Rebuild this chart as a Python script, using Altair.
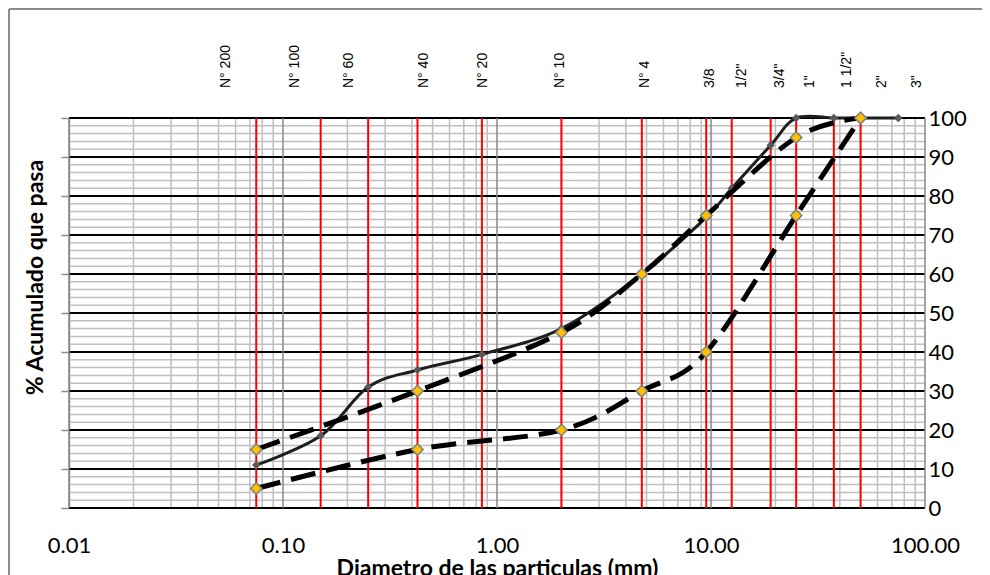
import altair as alt
import pandas as pd

# ---- data ----
sieve_mm = [0.075, 0.15, 0.25, 0.425, 0.85, 2.0, 4.75, 9.5, 12.5, 19.0, 25.0, 37.5, 50.0, 75.0]
sieve_names = ["N° 200", "N° 100", "N° 60", "N° 40", "N° 20", "N° 10", "N° 4",
               "3/8", '1/2"', '3/4"', '1"', '1 1/2"', '2"', '3"']
label_mm = [0.054, 0.114, 0.203, 0.456, 0.861, 1.97, 4.92, 9.89, 13.96, 21.0, 29.0, 43.2, 63.0, 91.8]
red_mm = [0.075, 0.15, 0.25, 0.425, 0.85, 2.0, 4.75, 9.5, 12.5, 19.0, 25.0, 37.5, 50.0]

sample_pass = [11.0, 18.5, 31.0, 35.4, 39.4, 46.0, 60.0, 74.5, 82.0, 93.0, 100.0, 100.0, 100.0, 100.0]

band_mm = [0.075, 0.425, 2.0, 4.75, 9.5, 25.0, 50.0]
upper_pass = [15, 30, 45, 60, 75, 95, 100]
lower_pass = [5, 15, 20, 30, 40, 75, 100]

decade_x = [0.01, 0.1, 1.0, 10.0, 100.0]
minor_x = [k * d for d in [0.01, 0.1, 1.0, 10.0] for k in range(2, 10)]
major_y = [0, 10, 20, 30, 40, 50, 60, 70, 80, 90, 100]
minor_y = [v for v in range(2, 100, 2) if v % 10 != 0]

W, H = 856, 390
FONT = "Lato"

sample_df = pd.DataFrame({"mm": sieve_mm, "p": sample_pass})
upper_df = pd.DataFrame({"mm": band_mm, "p": upper_pass})
lower_df = pd.DataFrame({"mm": band_mm, "p": lower_pass})
labels_df = pd.DataFrame({"mm": label_mm, "name": sieve_names})

xs = alt.Scale(type="log", domain=[0.01, 100], nice=False)
ys = alt.Scale(domain=[0, 100], nice=False)

xaxis = alt.Axis(values=decade_x, format=".2f", grid=False, ticks=False, tickSize=0,
                 domain=False, labelFont=FONT, labelFontSize=22, labelColor="black",
                 labelFlush=False, labelOverlap=False, labelBaseline="middle", labelPadding=37,
                 title="Diametro de las particulas (mm)", titleFont=FONT, titleFontSize=23,
                 titleFontWeight="bold", titleColor="black", titleBaseline="alphabetic",
                 titleY=67)
yleft = alt.Axis(values=major_y, labels=False, grid=False, ticks=True, tickSize=8,
                 tickColor="#8c8c8c", tickWidth=1.5, domain=True, domainColor="#8c8c8c",
                 domainWidth=1.5, title="% Acumulado que pasa", titleFont=FONT,
                 titleFontSize=23, titleFontWeight="bold", titleColor="black",
                 titleAngle=270, titleAlign="center", titleBaseline="middle",
                 titleX=-34, titleY=159)
yright = alt.Axis(orient="right", values=major_y, grid=False, ticks=False, tickSize=0,
                  domain=False, labelFont=FONT, labelFontSize=22, labelColor="black",
                  labelPadding=3, labelFlush=False, title=None)

X = alt.X("v:Q", scale=xs, axis=xaxis)

def vrules(vals, color, width):
    return alt.Chart(pd.DataFrame({"v": vals})).mark_rule(color=color, strokeWidth=width).encode(x=X)

def hrules(vals, color, width):
    return alt.Chart(pd.DataFrame({"v": vals})).mark_rule(color=color, strokeWidth=width).encode(
        y=alt.Y("v:Q", scale=ys, axis=yleft))

grid = alt.layer(
    hrules(minor_y, "#bfbfbf", 1.5),
    vrules(minor_x, "#bfbfbf", 1.5),
    hrules(major_y, "#000000", 1.8),
    vrules(decade_x, "#878787", 1.5),
    vrules(red_mm, "#ff0000", 2),
)

Xd = alt.X("mm:Q", scale=xs, axis=xaxis)
Yd = alt.Y("p:Q", scale=ys, axis=yright)

solid = alt.Chart(sample_df).mark_line(interpolate="cardinal", color="#1e1e1e",
                                       strokeWidth=3).encode(x=Xd, y=Yd)
solid_pts = alt.Chart(sample_df).mark_point(shape="diamond", filled=True, size=70,
                                            fill="#595959", opacity=1).encode(x=Xd, y=Yd)
upper = alt.Chart(upper_df).mark_line(interpolate="cardinal", color="#000000", strokeWidth=5,
                                      strokeDash=[25, 11]).encode(x=Xd, y=Yd)
lower = alt.Chart(lower_df).mark_line(interpolate="cardinal", color="#000000", strokeWidth=5,
                                      strokeDash=[25, 11]).encode(x=Xd, y=Yd)
upper_pts = alt.Chart(upper_df).mark_point(shape="diamond", filled=True, size=130, fill="#ffc000",
                                           stroke="#7f7f7f", strokeWidth=1.5, opacity=1).encode(x=Xd, y=Yd)
lower_pts = alt.Chart(lower_df).mark_point(shape="diamond", filled=True, size=130, fill="#ffc000",
                                           stroke="#7f7f7f", strokeWidth=1.5, opacity=1).encode(x=Xd, y=Yd)
top_labels = alt.Chart(labels_df).mark_text(angle=270, align="left", baseline="middle",
                                            font="Liberation Sans", fontSize=14,
                                            color="black").encode(x=Xd, text="name:N",
                                                                  y=alt.value(-30))
frame_df = pd.DataFrame({"a": [0]})
frame_left = alt.Chart(frame_df).mark_rule(color="#8c8c8c", strokeWidth=2).encode(
    x=alt.value(-60), y=alt.value(-109), y2=alt.value(H + 80))
frame_top = alt.Chart(frame_df).mark_rule(color="#8c8c8c", strokeWidth=2).encode(
    y=alt.value(-109), x=alt.value(-60), x2=alt.value(W + 70))

data_layer = alt.layer(solid, solid_pts, upper, lower, upper_pts, lower_pts, top_labels,
                       frame_left, frame_top)

chart = alt.layer(grid, data_layer).resolve_scale(y="independent").properties(
    width=W, height=H, autosize="none",
    padding={"left": 61, "top": 110, "right": 57, "bottom": 67},
    background="white",
).configure_view(stroke=None)

chart.save("out.html", embed_options={"renderer": "svg", "actions": False})
